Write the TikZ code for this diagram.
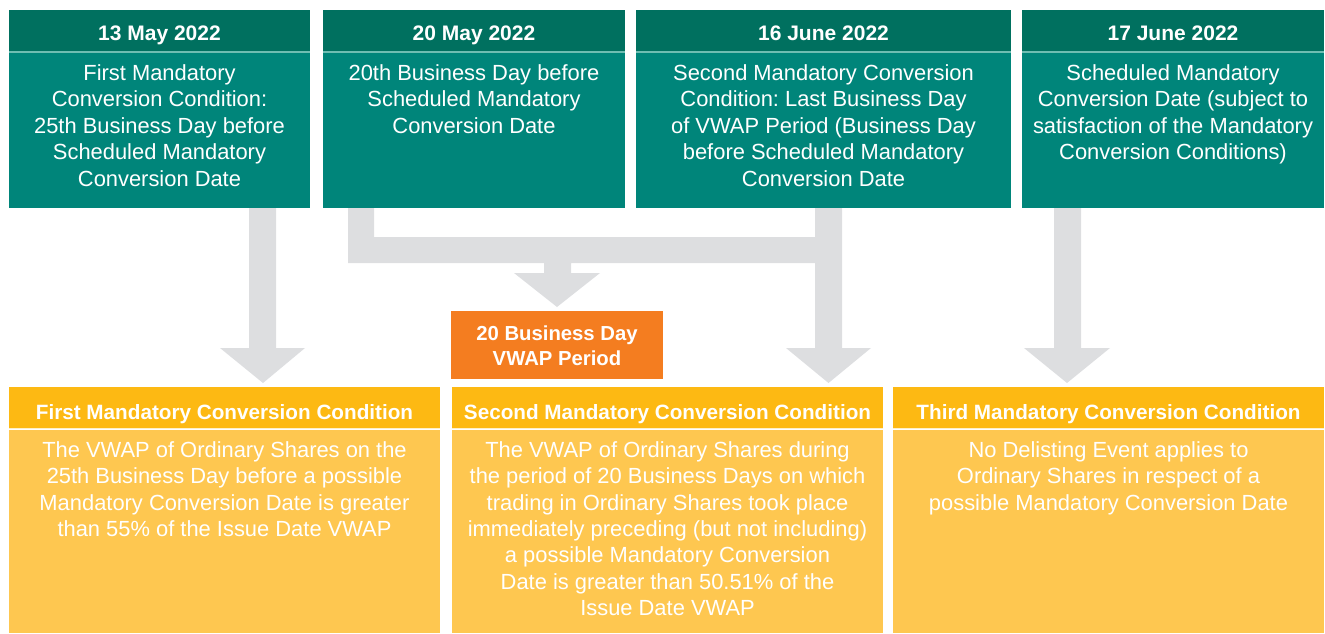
\documentclass[tikz,border=0pt]{standalone}
\usepackage{fontspec}
\setmainfont{Liberation Sans}
\frenchspacing
\definecolor{tealhead}{HTML}{00705F}
\definecolor{tealbody}{HTML}{00857A}
\definecolor{tealline}{HTML}{6FBDB2}
\definecolor{yelhead}{HTML}{FDB913}
\definecolor{yelbody}{HTML}{FEC750}
\definecolor{yelline}{HTML}{FFF0C8}
\definecolor{orangebox}{HTML}{F47D20}
\definecolor{arrowgray}{HTML}{DDDEE0}
\begin{document}
\begin{tikzpicture}[x=1pt,y=-1pt,
  box/.style={rectangle, inner sep=0pt, outer sep=0pt, draw=none},
  thead/.style={box, fill=tealhead, minimum height=42pt},
  tbody/.style={box, fill=tealbody, minimum height=155pt},
  yhead/.style={box, fill=yelhead, minimum height=41pt},
  ybody/.style={box, fill=yelbody, minimum height=203pt},
  headtxt/.style={inner sep=0pt, anchor=base, text=white, font=\fontsize{21}{25}\selectfont\bfseries},
  yheadtxt/.style={headtxt, font=\fontsize{20.7}{25}\selectfont\bfseries},
  bodytxt/.style={inner sep=0pt, anchor=north, text=white, align=center, font=\fontsize{21.9}{26.5}\selectfont\frenchspacing},
  bbodytxt/.style={bodytxt, font=\fontsize{21.9}{26.4}\selectfont\frenchspacing},
  blockarrow/.style={fill=arrowgray, draw=none}
]
\useasboundingbox (0,0) rectangle (1325,633);

% ---- block arrows (connectors) ----
\coordinate (a1s) at (262.5,208);
\coordinate (a4s) at (1067.5,208);
\fill[blockarrow] (a1s) ++(-13.5,0) -- ++(0,140) -- ++(-29,0) -- (263,383) -- (305,348) -- (276,348) -- (276,208) -- cycle;
\fill[blockarrow] (a4s) ++(-13.5,0) -- ++(0,140) -- ++(-30,0) -- (1067,383) -- (1110,348) -- (1081,348) -- (1081,208) -- cycle;
\fill[blockarrow] (348,208) -- (348,263) -- (544,263) -- (544,273) -- (514,273) -- (557,307) -- (600,273) -- (571,273) -- (571,263)
  -- (815,263) -- (815,348) -- (786,348) -- (828.5,383) -- (871,348) -- (842,348) -- (842,208) -- (815,208) -- (815,237)
  -- (374,237) -- (374,208) -- cycle;

% ---- top boxes ----
\node[thead, minimum width=301pt] (h1) at (159.5,31) {};
\node[tbody, minimum width=301pt] (b1) at (159.5,130.5) {};
\node[thead, minimum width=302pt] (h2) at (474,31) {};
\node[tbody, minimum width=302pt] (b2) at (474,130.5) {};
\node[thead, minimum width=375pt] (h3) at (823.5,31) {};
\node[tbody, minimum width=375pt] (b3) at (823.5,130.5) {};
\node[thead, minimum width=302pt] (h4) at (1173,31) {};
\node[tbody, minimum width=302pt] (b4) at (1173,130.5) {};
\foreach \n in {1,2,3,4}{\draw[tealline, line width=1.2pt] (h\n.south west) -- (h\n.south east);}

\node[headtxt] (ht1) at (159.5,40.7) {13 May 2022};
\node[headtxt] (ht2) at (474,40.7) {20 May 2022};
\node[headtxt] (ht3) at (823.5,40.7) {16 June 2022};
\node[headtxt] (ht4) at (1173,40.7) {17 June 2022};

\node[bodytxt] (bt1) at (159.5,64) {\rule{0pt}{16pt}First Mandatory\\Conversion Condition:\\25th Business Day before\\Scheduled Mandatory\\Conversion Date};
\node[bodytxt] (bt2) at (474,64) {\rule{0pt}{16pt}20th Business Day before\\Scheduled Mandatory\\Conversion Date};
\node[bodytxt] (bt3) at (823.5,64) {\rule{0pt}{16pt}Second Mandatory Conversion\\Condition: Last Business Day\\of VWAP Period (Business Day\\before Scheduled Mandatory\\Conversion Date};
\node[bodytxt] (bt4) at (1173,64) {\rule{0pt}{16pt}Scheduled Mandatory\\Conversion Date (subject to\\satisfaction of the Mandatory\\Conversion Conditions)};

% ---- orange box ----
\node[box, fill=orangebox, minimum width=212pt, minimum height=68pt] (vw) at (557,345) {};
\node[inner sep=0pt, anchor=north, text=white, align=center, font=\fontsize{20.3}{24.3}\selectfont\bfseries] (vwt) at (557,324.7) {\rule{0pt}{16pt}20 Business Day\\VWAP Period};

% ---- bottom boxes ----
\node[yhead, minimum width=431pt] (c1) at (224.5,407.5) {};
\node[ybody, minimum width=431pt] (d1) at (224.5,531.5) {};
\node[yhead, minimum width=431pt] (c2) at (667.5,407.5) {};
\node[ybody, minimum width=431pt] (d2) at (667.5,531.5) {};
\node[yhead, minimum width=431pt] (c3) at (1108.5,407.5) {};
\node[ybody, minimum width=431pt] (d3) at (1108.5,531.5) {};
\foreach \n in {1,2,3}{\draw[yelline, line width=1.2pt] ([yshift=-0.8pt]c\n.south west) -- ([yshift=-0.8pt]c\n.south east);}

\node[yheadtxt] (ct1) at (224.5,419) {First Mandatory Conversion Condition};
\node[yheadtxt] (ct2) at (667.5,419) {Second Mandatory Conversion Condition};
\node[yheadtxt] (ct3) at (1108.5,419) {Third Mandatory Conversion Condition};

\node[bbodytxt] (dt1) at (224.5,441) {\rule{0pt}{16pt}The VWAP of Ordinary Shares on the\\25th Business Day before a possible\\Mandatory Conversion Date is greater\\than 55\% of the Issue Date VWAP};
\node[bbodytxt] (dt2) at (667.5,441) {\rule{0pt}{16pt}The VWAP of Ordinary Shares during\\the period of 20 Business Days on which\\trading in Ordinary Shares took place\\immediately preceding (but not including)\\a possible Mandatory Conversion\\Date is greater than 50.51\% of the\\Issue Date VWAP};
\node[bbodytxt] (dt3) at (1108.5,441) {\rule{0pt}{16pt}No Delisting Event applies to\\Ordinary Shares in respect of a\\possible Mandatory Conversion Date};
\end{tikzpicture}
\end{document}
